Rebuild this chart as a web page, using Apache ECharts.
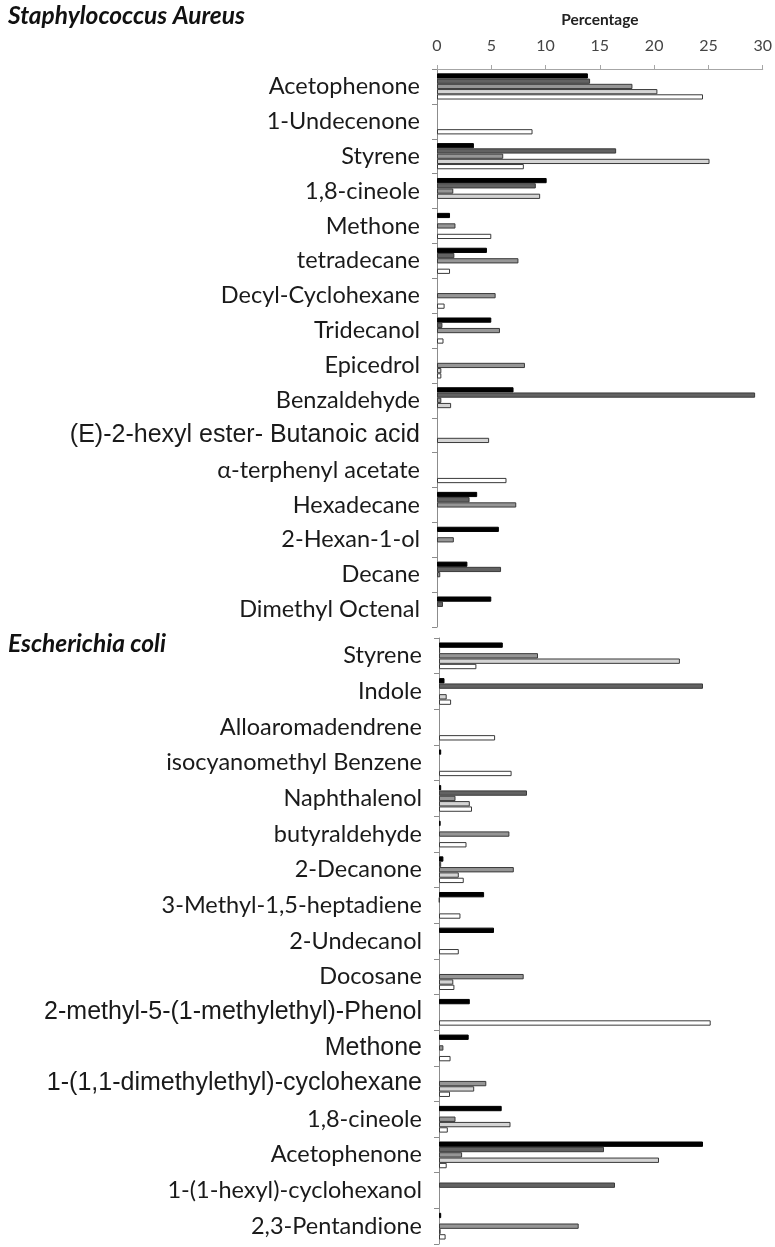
<!DOCTYPE html>
<html><head><meta charset="utf-8">
<script src="https://cdn.jsdelivr.net/npm/echarts@6/dist/echarts.min.js"></script>
<style>html,body{margin:0;padding:0;background:#fff}#c{width:775px;height:1247px}</style>
</head><body><div id="c"></div>
<script>
// ---- data ----
const catsSA = ['Acetophenone','1-Undecenone','Styrene','1,8-cineole','Methone','tetradecane','Decyl-Cyclohexane','Tridecanol','Epicedrol','Benzaldehyde','(E)-2-hexyl ester- Butanoic acid','α-terphenyl acetate','Hexadecane','2-Hexan-1-ol','Decane','Dimethyl Octenal'];
const saS1 = [13.9, 0, 3.4, 10.1, 1.2, 4.6, 0, 5.0, 0, 7.05, 0, 0, 3.7, 5.7, 2.8, 5.0];
const saS2 = [14.1, 0, 16.5, 9.1, 0, 1.6, 0, 0.5, 0, 29.3, 0, 0, 3.0, 0, 5.9, 0.55];
const saS3 = [18.0, 0, 6.1, 1.5, 1.7, 7.5, 5.4, 5.8, 8.1, 0.4, 0, 0, 7.3, 1.55, 0.3, 0];
const saS4 = [20.3, 0, 25.1, 9.5, 0, 0, 0, 0, 0.4, 1.3, 4.8, 0, 0, 0, 0, 0];
const saS5 = [24.5, 8.8, 8.0, 0, 5.0, 1.2, 0.7, 0.6, 0.4, 0, 0, 6.4, 0, 0, 0, 0];

const catsEC = ['Styrene','Indole','Alloaromadendrene','isocyanomethyl Benzene','Naphthalenol','butyraldehyde','2-Decanone','3-Methyl-1,5-heptadiene','2-Undecanol','Docosane','2-methyl-5-(1-methylethyl)-Phenol','Methone','1-(1,1-dimethylethyl)-cyclohexane','1,8-cineole','Acetophenone','1-(1-hexyl)-cyclohexanol','2,3-Pentandione'];
const ecS1 = [5.8, 0.5, 0, 0.2, 0.2, 0.15, 0.4, 4.1, 5.0, 0, 2.8, 2.7, 0, 5.7, 24.0, 0, 0.2];
const ecS2 = [0.1, 24.0, 0, 0, 8.0, 0, 0.2, 0.05, 0, 0, 0, 0, 0, 0, 15.0, 16.0, 0];
const ecS3 = [9.0, 0, 0, 0, 1.5, 6.4, 6.8, 0, 0, 7.7, 0, 0.4, 4.3, 1.5, 2.1, 0, 12.7];
const ecS4 = [21.9, 0.7, 0, 0, 2.8, 0, 1.8, 0, 0, 1.3, 0, 0, 3.2, 6.5, 20.0, 0, 0.15];
const ecS5 = [3.4, 1.1, 5.1, 6.6, 3.0, 2.5, 2.25, 1.95, 1.8, 1.4, 24.7, 1.05, 1.0, 0.8, 0.7, 0, 0.6];

const xTicks = [0, 5, 10, 15, 20, 25, 30];
const titleSA = 'Staphylococcus Aureus';
const titleEC = 'Escherichia coli';
const axisName = 'Percentage';
// labels that use an Arial-like face in the source
const arialLabels = ['(E)-2-hexyl ester- Butanoic acid','2-methyl-5-(1-methylethyl)-Phenol','Methone@1','1-(1,1-dimethylethyl)-cyclohexane'];

// ---- chart ----
const colors = ['#000000', '#626262', '#969696', '#d4d4d4', '#ffffff'];
const chart = echarts.init(document.getElementById('c'), null, {renderer: 'canvas'});

function lbl(gi) {
  return function (v) {
    const isA = arialLabels.indexOf(v) >= 0 || arialLabels.indexOf(v + '@' + gi) >= 0;
    return (isA ? '{a|' : '{c|') + v + '}';
  };
}
const rich = {
  a: {fontFamily: 'Liberation Sans', fontSize: 25, color: '#1a1a1a'},
  c: {fontFamily: 'Lato', fontSize: 23.5, color: '#1a1a1a'}
};
function nz(arr) { return arr.map(v => v === 0 ? '-' : v); }

const grids = [
  {left: 437, width: 330, top: 69, height: 558},
  {left: 439, width: 330, top: 638, height: 606}
];
const xAxes = [0, 1].map(i => ({
  type: 'value', gridIndex: i, min: 0, max: 30, interval: 5,
  position: 'top',
  name: i === 0 ? axisName : '', nameLocation: 'middle', nameGap: 41,
  nameTextStyle: {fontFamily: 'Lato', fontWeight: 'bold', fontSize: 15.5, color: '#222'},
  axisLine: {show: i === 0, lineStyle: {color: '#a6a6a6'}},
  axisTick: {show: i === 0, length: 4, lineStyle: {color: '#a6a6a6'}},
  axisLabel: {show: i === 0, margin: 15, fontFamily: 'Lato', fontSize: 16, color: '#444',
    formatter: v => xTicks.indexOf(v) >= 0 ? String(v) : ''},
  splitLine: {show: false}
}));
const yAxes = [catsSA, catsEC].map((cats, i) => ({
  type: 'category', gridIndex: i, data: cats, inverse: true,
  axisLine: {show: true, lineStyle: {color: '#8c8c8c'}},
  axisTick: {show: true, length: 5, lineStyle: {color: '#8c8c8c'}},
  axisLabel: {margin: 17, formatter: lbl(i), rich: rich, interval: 0}
}));
const series = [];
[[saS1, saS2, saS3, saS4, saS5], [ecS1, ecS2, ecS3, ecS4, ecS5]].forEach((grp, gi) => {
  grp.forEach((arr, si) => {
    series.push({
      type: 'bar', xAxisIndex: gi, yAxisIndex: gi, data: nz(arr),
      barGap: '0%', barCategoryGap: '25%',
      itemStyle: {color: colors[si], borderColor: si === 0 ? '#000' : '#3a3a3a', borderWidth: 1},
      emphasis: {disabled: true}, animation: false
    });
  });
});
chart.setOption({
  animation: false,
  title: [
    {text: titleSA, left: 3, top: -1, textStyle: {fontFamily: 'Lato', fontStyle: 'italic', fontWeight: 'bold', fontSize: 24.5, color: '#111'}},
    {text: titleEC, left: 3, top: 627, textStyle: {fontFamily: 'Lato', fontStyle: 'italic', fontWeight: 'bold', fontSize: 24.5, color: '#111'}}
  ],
  grid: grids, xAxis: xAxes, yAxis: yAxes, series: series
});
</script></body></html>
